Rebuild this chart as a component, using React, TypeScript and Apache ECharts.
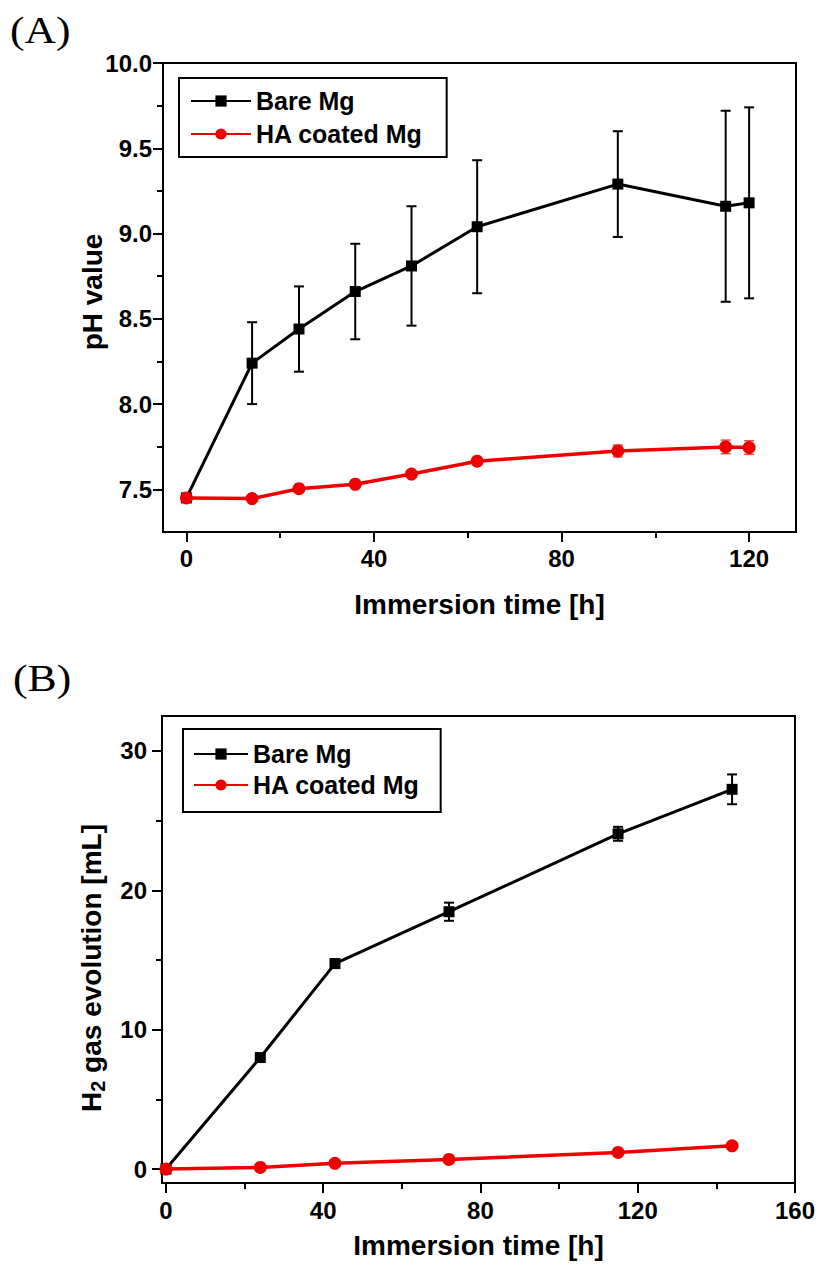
import React, { useEffect, useRef } from 'react';
import * as echarts from 'echarts';

// ---------- Data: panel A (pH) ----------
const timeA = [0, 14, 24, 36, 48, 62, 92, 115, 120];
const bareA = [7.45, 8.24, 8.44, 8.66, 8.81, 9.04, 9.29, 9.16, 9.18];
const bareAErr = [0, 0.24, 0.25, 0.28, 0.35, 0.39, 0.31, 0.56, 0.56];
const haA = [7.45, 7.446, 7.504, 7.53, 7.59, 7.665, 7.725, 7.749, 7.745];
const haAErr = [0.01, 0.005, 0.01, 0.01, 0.01, 0.02, 0.035, 0.04, 0.04];

// ---------- Data: panel B (H2 gas) ----------
const timeB = [0, 24, 43, 72, 115, 144];
const bareB = [0, 8.0, 14.74, 18.46, 24.05, 27.24];
const bareBErr = [0, 0.1, 0.3, 0.65, 0.5, 1.07];
const haB = [0, 0.12, 0.41, 0.69, 1.19, 1.67];
const haBErr = [0.04, 0.04, 0.05, 0.05, 0.06, 0.08];

// ---------- Tick values ----------
const xTicksA = [0, 40, 80, 120];
const xMinorA = [20, 60, 100];
const yTicksA = [7.5, 8.0, 8.5, 9.0, 9.5, 10.0];
const yMinorA = [7.75, 8.25, 8.75, 9.25, 9.75];
const xTicksB = [0, 40, 80, 120, 160];
const xMinorB = [20, 60, 100, 140];
const yTicksB = [0, 10, 20, 30];
const yMinorB = [5, 15, 25];

const seriesNames = ['Bare Mg', 'HA coated Mg'];
const FONT = '"Liberation Sans", Arial, sans-serif';
const BLACK = '#000000';
const RED = '#ee0000';

function errSeries(xi: number, yi: number, xs: number[], ys: number[], errs: number[], color: string, width: number, cap: number) {
  return {
    type: 'custom',
    xAxisIndex: xi,
    yAxisIndex: yi,
    silent: true,
    z: 1,
    encode: { x: 0, y: [1, 2] },
    data: xs.map((x, i) => [x, ys[i] - errs[i], ys[i] + errs[i]]),
    renderItem: (params: any, api: any) => {
      const x = api.value(0);
      const lo = api.coord([x, api.value(1)]);
      const hi = api.coord([x, api.value(2)]);
      const style = { stroke: color, lineWidth: width, fill: 'none' };
      return {
        type: 'group',
        children: [
          { type: 'line', shape: { x1: lo[0], y1: lo[1], x2: hi[0], y2: hi[1] }, style },
          { type: 'line', shape: { x1: lo[0] - cap, y1: lo[1], x2: lo[0] + cap, y2: lo[1] }, style },
          { type: 'line', shape: { x1: hi[0] - cap, y1: hi[1], x2: hi[0] + cap, y2: hi[1] }, style },
        ],
      };
    },
  };
}

function lineSeries(name: string, xi: number, yi: number, xs: number[], ys: number[], color: string, symbol: string, size: number, width: number) {
  return {
    type: 'line',
    name,
    xAxisIndex: xi,
    yAxisIndex: yi,
    data: xs.map((x, i) => [x, ys[i]]),
    symbol,
    symbolSize: size,
    showAllSymbol: true,
    lineStyle: { color, width },
    itemStyle: { color },
    z: 3,
  };
}

const labelStyle = { color: BLACK, fontSize: 24, fontWeight: 'bold', fontFamily: FONT };

function mainAxis(gridIndex: number, min: number, max: number, ticks: number[], margin: number, fmt: (v: number) => string, name?: string, nameGap?: number) {
  return {
    type: 'value',
    gridIndex,
    min,
    max,
    splitLine: { show: false },
    axisLine: { show: true, onZero: false, lineStyle: { color: BLACK, width: 2 } },
    axisTick: { show: true, customValues: ticks, length: 10, inside: false, lineStyle: { color: BLACK, width: 2 } },
    axisLabel: { show: true, customValues: ticks, margin, formatter: fmt, ...labelStyle },
    name: name || '',
    nameLocation: 'middle',
    nameGap: nameGap || 0,
    nameTextStyle: { color: BLACK, fontSize: 28, fontWeight: 'bold', fontFamily: FONT },
  };
}

function minorAxis(gridIndex: number, min: number, max: number, ticks: number[], position: string) {
  return {
    type: 'value',
    gridIndex,
    min,
    max,
    position,
    offset: 0,
    splitLine: { show: false },
    axisLine: { show: false, onZero: false },
    axisTick: { show: true, customValues: ticks, length: 6, lineStyle: { color: BLACK, width: 2 } },
    axisLabel: { show: false },
  };
}

function legendAt(left: number, top: number, padding: number[], itemWidth: number, itemGap: number) {
  return {
    left,
    top,
    orient: 'vertical',
    data: seriesNames,
    borderColor: BLACK,
    borderWidth: 2,
    borderRadius: 0,
    backgroundColor: '#ffffff',
    padding,
    itemWidth,
    itemHeight: 14,
    itemGap,
    selectedMode: false,
    textStyle: { color: BLACK, fontSize: 25, fontWeight: 'bold', fontFamily: FONT, lineHeight: 30 },
  };
}

export default function App() {
  const ref = useRef<HTMLDivElement>(null);

  useEffect(() => {
    document.body.style.margin = '0';
    if (!ref.current) return;
    const chart = echarts.init(ref.current, undefined, { renderer: 'svg' });

    const fmt1 = (v: number) => v.toFixed(1);
    const fmt0 = (v: number) => String(v);

    const option: any = {
      animation: false,
      backgroundColor: '#ffffff',
      grid: [
        { left: 163, top: 63, width: 633, height: 469, show: true, borderColor: BLACK, borderWidth: 2, backgroundColor: 'transparent' },
        { left: 162, top: 716, width: 633, height: 467, show: true, borderColor: BLACK, borderWidth: 2, backgroundColor: 'transparent' },
      ],
      xAxis: [
        mainAxis(0, -5, 130, xTicksA, 14, fmt0, 'Immersion time [h]', 58),
        minorAxis(0, -5, 130, xMinorA, 'bottom'),
        mainAxis(1, -1, 160, xTicksB, 15, fmt0, 'Immersion time [h]', 48),
        minorAxis(1, -1, 160, xMinorB, 'bottom'),
      ],
      yAxis: [
        mainAxis(0, 7.25, 10, yTicksA, 11, fmt1),
        minorAxis(0, 7.25, 10, yMinorA, 'left'),
        mainAxis(1, -1, 32.5, yTicksB, 15, fmt0),
        minorAxis(1, -1, 32.5, yMinorB, 'left'),
      ],
      legend: [
        legendAt(179, 78, [8, 24, 8, 11], 60, 3),
        legendAt(183, 729, [10, 21, 12, 10], 54, 1),
      ],
      graphic: [
        { type: 'text', x: 10, y: 30, scaleX: 1.15, style: { text: '(A)', fill: BLACK, font: 'normal 38px "Liberation Serif", "Times New Roman", serif', align: 'left', verticalAlign: 'middle' } },
        { type: 'text', x: 13, y: 678, scaleX: 1.15, style: { text: '(B)', fill: BLACK, font: 'normal 38px "Liberation Serif", "Times New Roman", serif', align: 'left', verticalAlign: 'middle' } },
        { type: 'text', x: 92, y: 292, rotation: Math.PI / 2, style: { text: 'pH value', fill: BLACK, font: 'bold 28px ' + FONT, align: 'center', verticalAlign: 'middle' } },
        {
          type: 'text', x: 91, y: 968, rotation: Math.PI / 2,
          style: {
            text: '{a|H}{s|2}{a| gas evolution [mL]}',
            align: 'center', verticalAlign: 'middle',
            rich: {
              a: { fill: BLACK, fontSize: 28, fontWeight: 'bold', fontFamily: FONT, verticalAlign: 'middle' },
              s: { fill: BLACK, fontSize: 20, fontWeight: 'bold', fontFamily: FONT, padding: [14, 0, 0, 0] },
            },
          },
        },
      ],
      series: [
        errSeries(0, 0, timeA, bareA, bareAErr, BLACK, 2, 5),
        errSeries(0, 0, timeA, haA, haAErr, '#e05050', 1.5, 5),
        lineSeries('Bare Mg', 0, 0, timeA, bareA, BLACK, 'rect', 11, 3),
        lineSeries('HA coated Mg', 0, 0, timeA, haA, RED, 'circle', 13, 3.5),
        errSeries(2, 2, timeB, bareB, bareBErr, BLACK, 2, 5),
        errSeries(2, 2, timeB, haB, haBErr, '#e05050', 1.5, 4),
        lineSeries('Bare Mg', 2, 2, timeB, bareB, BLACK, 'rect', 11, 3),
        lineSeries('HA coated Mg', 2, 2, timeB, haB, RED, 'circle', 13, 3.5),
      ],
    };

    chart.setOption(option);
    return () => chart.dispose();
  }, []);

  return <div ref={ref} style={{ width: 818, height: 1275 }} />;
}
